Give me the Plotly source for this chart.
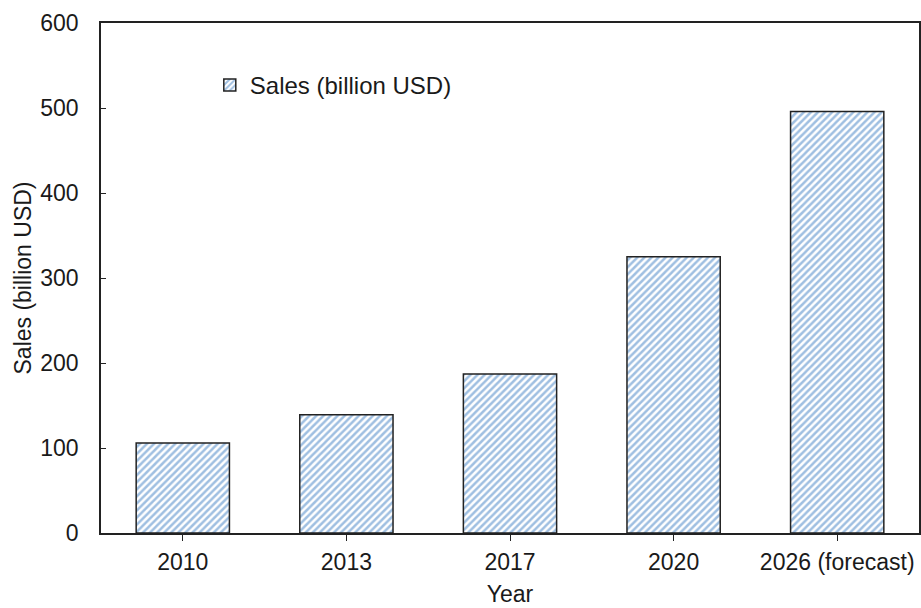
import plotly.graph_objects as go

# Annual sales, billion USD
years = ["2010", "2013", "2017", "2020", "2026 (forecast)"]
sales = [106, 139, 187, 325, 496]
y_ticks = [0, 100, 200, 300, 400, 500, 600]

FONT = "Liberation Sans, Arial, sans-serif"
TEXT = "#1a1a1a"
AXIS = "#222222"

fig = go.Figure(
    go.Bar(
        x=years,
        y=sales,
        name="Sales (billion USD)",
        marker=dict(
            color="white",
            line=dict(color=AXIS, width=1.5),
            pattern=dict(shape="/", fgcolor="#3f7fc4", bgcolor="white",
                         size=5, solidity=0.5, fillmode="overlay"),
        ),
        showlegend=True,
    )
)

fig.update_layout(
    width=921,
    height=608,
    margin=dict(l=101, r=2, t=23, b=75),
    plot_bgcolor="white",
    paper_bgcolor="white",
    bargap=0.43,
    font=dict(family=FONT, size=23, color=TEXT),
    showlegend=True,
    legend=dict(
        x=0.133, y=0.922, xanchor="left", yanchor="top",
        bgcolor="rgba(0,0,0,0)", font=dict(family=FONT, size=24, color=TEXT),
        itemwidth=30, tracegroupgap=0,
    ),
    xaxis=dict(
        title=dict(text="Year", standoff=12, font=dict(family=FONT, size=23, color=TEXT)),
        tickfont=dict(family=FONT, size=23, color=TEXT),
        ticklabelstandoff=2,
        automargin=False,
        showline=True, linecolor=AXIS, linewidth=1.5, mirror=True,
        ticks="outside", ticklen=6, tickcolor=AXIS,
        showgrid=False,
    ),
    yaxis=dict(
        title=dict(text="Sales (billion USD)", standoff=2, font=dict(family=FONT, size=23, color=TEXT)),
        tickfont=dict(family=FONT, size=23, color=TEXT),
        ticklabelstandoff=16,
        automargin=False,
        range=[0, 600],
        tickvals=y_ticks,
        showline=True, linecolor=AXIS, linewidth=1.5, mirror=True,
        ticks="inside", ticklen=5, tickcolor=AXIS,
        showgrid=False, zeroline=False,
    ),
)

fig.write_html("out.html")
